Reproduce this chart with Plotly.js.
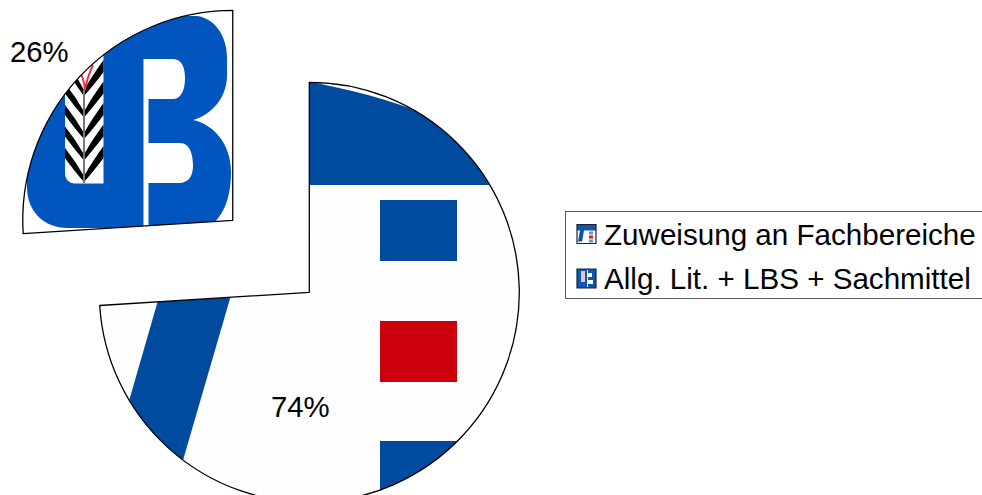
<!DOCTYPE html>
<html>
<head>
<meta charset="utf-8">
<script src="https://cdn.plot.ly/plotly-3.0.1.min.js"></script>
<style>
html,body{margin:0;padding:0;background:#fff;overflow:hidden;width:982px;height:495px}
#stage{position:absolute;left:0;top:0;width:982px;height:495px;overflow:hidden}
#chart{position:absolute;left:-50px;top:-50px;width:1100px;height:700px}
</style>
</head>
<body>
<svg width="0" height="0" style="position:absolute">
<defs>
<filter id="soft" x="-5%" y="-5%" width="110%" height="110%"><feGaussianBlur stdDeviation="0.7"/></filter>
<pattern id="picLarge" patternUnits="userSpaceOnUse" x="0" y="0" width="1100" height="700">
 <g transform="translate(50,50)"><rect x="-50" y="-50" width="1100" height="700" fill="#fefefe"/>
 <g filter="url(#soft)" fill="#004b9e">
  <path d="M300,80C350,89 390,100 423,113L505,185H300Z"/>
  <rect x="380" y="200" width="77" height="61"/>
  <rect x="380" y="321" width="77" height="61" fill="#cc0011"/>
  <rect x="380" y="441" width="77" height="80"/>
  <path d="M161,290H232.5L170,505H99Z"/>
 </g></g>
</pattern>
<pattern id="picSmall" patternUnits="userSpaceOnUse" x="0" y="0" width="1100" height="700">
 <g transform="translate(50,50)"><rect x="-50" y="-50" width="1100" height="700" fill="#ffffff"/>
 <g filter="url(#soft)">
  <path fill="#0354bf" d="M27,16H197C214,18 227,35 227,58V77C226,100 210,115 193,120C215,125 231,145 231,172C231,200 222,219 207,228H70C45,229 27,212 27,187Z"/>
  <path fill="#fff" d="M143.5,59H173C182,59 185,68 185,78C185,92 180,99 173,99H148.500V143H180C190,143 193,155 193,165C193,175 190,183 178,183H148.500V235H143.500Z"/>
  <path fill="#fff" d="M65,56H103.500V183.500H75C69,183.500 65,179 65,173Z"/>
  <g fill="#000">
   <path d="M84,182Q93,172 103.500,158V146Q92,162 84,176Z"/><path d="M84,160.500Q93,150 103.500,136.500V124.500Q92,140 84,154.500Z"/>
   <path d="M84,139Q93,129 103.500,115V103Q92,119 84,133Z"/><path d="M84,117.500Q93,107 103.500,93.500V81.500Q92,97 84,111.500Z"/>
   <path d="M84,96Q93,86 103.500,72V60Q92,76 84,90Z"/>
   <path d="M84,182Q75,172 65,158V148Q76,162 84,176Z"/><path d="M84,160.500Q75,150 65,136.500V126.500Q76,140 84,154.500Z"/>
   <path d="M84,139Q75,129 65,115V105Q76,119 84,133Z"/><path d="M84,117.500Q75,107 65,93.500V83.500Q76,97 84,111.500Z"/>
   <path d="M84,96Q78,88 70,76V68Q78,78 84,90Z"/>
   <rect x="83" y="90" width="2" height="93" fill="#777"/>
  </g>
  <path fill="none" stroke="#ee2b3b" stroke-width="1.800" d="M85,90Q84,78 78,68M85,90Q87,78 93,65"/>
 </g></g>
</pattern>
<pattern id="keyLarge" patternUnits="objectBoundingBox" width="1" height="1" viewBox="0 0 19 19" preserveAspectRatio="none">
 <rect width="19" height="19" fill="#fff"/><rect width="19" height="6" fill="#1256a8"/>
 <path d="M3,6H7L5,17H1Z" fill="#0b50b0"/><rect x="12" y="7" width="4" height="3" fill="#6d93c8"/><rect x="12" y="11" width="4" height="3" fill="#dd1c2c"/>
 <rect x="12" y="15" width="4" height="3" fill="#6d93c8"/>
</pattern>
<pattern id="keySmall" patternUnits="objectBoundingBox" width="1" height="1" viewBox="0 0 19 19" preserveAspectRatio="none">
 <rect width="19" height="19" fill="#0d56b4"/><rect x="4" y="2" width="4" height="11" fill="#e9c6ce"/>
 <rect x="11" y="4" width="4" height="4" fill="#fff"/><rect x="11" y="11" width="5" height="4" fill="#fff"/><rect x="10" y="1" width="1" height="17" fill="#fff"/>
</pattern>
</defs>
</svg>
<div id="stage"><div id="chart"></div></div>
<script>
// Chart data
var labels = ['Zuweisung an Fachbereiche', 'Allg. Lit. + LBS + Sachmittel'];
var values = [74, 26];
var pulls = [0, 0.5];
var baseColors = ['#fefefe', '#0354bf'];
var sliceFills = ['picLarge', 'picSmall'];
var keyFills = ['keyLarge', 'keySmall'];
var percentLabelPos = [[300, 406], [39, 52]];

var W = 1100, H = 700, OFF = 50;
var cx = 309.3 + OFF, cy = 292.3 + OFF, half = 315;

var data = [{
  type: 'pie', labels: labels, values: values, pull: pulls, sort: false,
  direction: 'clockwise', rotation: 0, textinfo: 'none', hoverinfo: 'none',
  marker: {colors: baseColors, line: {color: '#000', width: 1.3}},
  domain: {x: [(cx - half) / W, (cx + half) / W], y: [1 - (cy + half) / H, 1 - (cy - half) / H]}
}];
var layout = {
  width: W, height: H, margin: {l: 0, r: 0, t: 0, b: 0, pad: 0},
  paper_bgcolor: 'rgba(0,0,0,0)', showlegend: true,
  font: {family: '"Liberation Sans", Arial, sans-serif', color: '#000', size: 29.33},
  legend: {x: (565 + OFF) / W, y: 1 - (211 + OFF) / H, xanchor: 'left', yanchor: 'top',
    bgcolor: '#fff', bordercolor: '#5a5a5a', borderwidth: 1, itemwidth: 30,
    font: {size: 29.6}, traceorder: 'normal'},
  annotations: values.map(function (v, i) {
    return {text: v + '%', xref: 'paper', yref: 'paper', showarrow: false,
      x: (percentLabelPos[i][0] + OFF) / W, y: 1 - (percentLabelPos[i][1] + OFF) / H,
      xanchor: 'center', yanchor: 'middle', font: {size: 29.33}};
  })
};
Plotly.newPlot('chart', data, layout, {staticPlot: true, displayModeBar: false}).then(function (gd) {
  gd.querySelectorAll('.slice path.surface').forEach(function (p, i) {
    p.style.fill = 'url(#' + sliceFills[i] + ')';
    p.style.fillOpacity = 1;
  });
  // Legend: taller rows and larger picture keys, as in the reference
  var rows = gd.querySelectorAll('.legend .traces');
  rows.forEach(function (r, i) {
    r.setAttribute('transform', 'translate(0,' + (22 + i * 44.5) + ')');
    var t = r.querySelector('.legendtext');
    if (t) t.setAttribute('x', parseFloat(t.getAttribute('x')) - 1);
    var k = r.querySelector('.legendpoints path') || r.querySelector('path');
    if (k) {
      k.setAttribute('d', 'M9.5,9.5H-9.5V-9.5H9.5Z');
      k.setAttribute('transform', (k.getAttribute('transform') || '') + ' translate(1.5,1)');
      k.style.fill = 'url(#' + keyFills[i] + ')';
      k.style.fillOpacity = 1;
      k.style.stroke = '#1a2233';
      k.style.strokeWidth = '1.2px';
    }
  });
  var sb = gd.querySelector('.legend .scrollbox');
  if (sb) sb.removeAttribute('clip-path');
  var bg = gd.querySelector('.legend .bg');
  if (bg) { bg.setAttribute('height', 87); bg.setAttribute('width', 500); }
});
</script>
</body>
</html>
